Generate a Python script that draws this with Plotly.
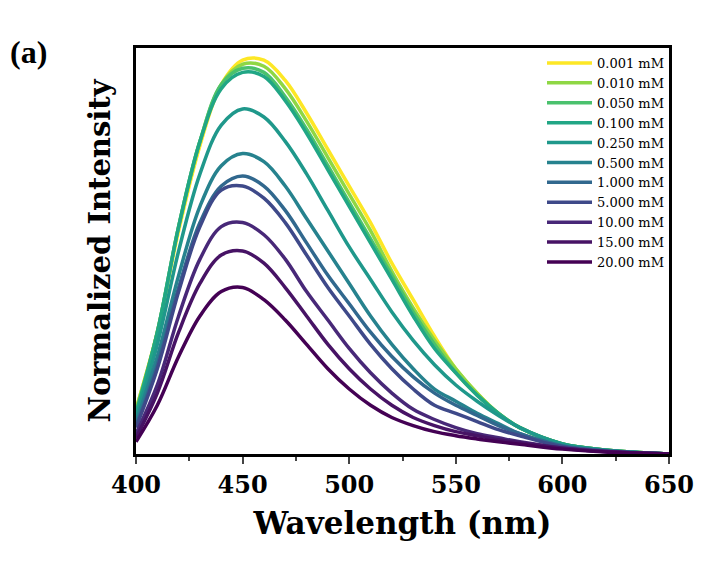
import plotly.graph_objects as go

wavelength = [400,410,420,430,440,450,460,470,480,490,500,510,520,530,540,550,560,570,580,600,620,650]
labels = ["0.001 mM","0.010 mM","0.050 mM","0.100 mM","0.250 mM","0.500 mM","1.000 mM","5.000 mM","10.00 mM","15.00 mM","20.00 mM"]
colors = ["#fde725","#8fd744","#4ac16d","#21a685","#1f988b","#26828e","#31688e","#3e4989","#482878","#471365","#440154"]
s_0001 = [0.11,0.30,0.55,0.76,0.91,0.97,0.97,0.92,0.84,0.75,0.66,0.57,0.47,0.38,0.29,0.21,0.15,0.10,0.065,0.025,0.01,0.0]
s_0010 = [0.11,0.30,0.56,0.77,0.91,0.96,0.955,0.90,0.82,0.73,0.64,0.55,0.45,0.36,0.28,0.21,0.15,0.10,0.065,0.025,0.01,0.0]
s_0050 = [0.10,0.30,0.56,0.77,0.91,0.95,0.94,0.88,0.80,0.71,0.62,0.53,0.44,0.35,0.27,0.20,0.145,0.10,0.065,0.025,0.01,0.0]
s_0100 = [0.10,0.30,0.56,0.77,0.90,0.94,0.93,0.87,0.79,0.70,0.61,0.52,0.43,0.34,0.26,0.20,0.145,0.10,0.065,0.025,0.01,0.0]
s_0250 = [0.09,0.27,0.50,0.69,0.81,0.85,0.83,0.77,0.69,0.60,0.51,0.43,0.35,0.28,0.22,0.17,0.13,0.095,0.065,0.025,0.01,0.0]
s_0500 = [0.08,0.24,0.44,0.61,0.71,0.74,0.72,0.66,0.58,0.50,0.42,0.34,0.27,0.21,0.16,0.13,0.10,0.075,0.05,0.02,0.008,0.0]
s_1000 = [0.07,0.22,0.41,0.57,0.66,0.685,0.66,0.60,0.52,0.44,0.37,0.30,0.24,0.19,0.15,0.12,0.095,0.07,0.05,0.02,0.008,0.0]
s_5000 = [0.065,0.21,0.40,0.56,0.65,0.66,0.63,0.57,0.49,0.41,0.34,0.27,0.21,0.16,0.12,0.10,0.08,0.06,0.045,0.018,0.007,0.0]
s_10 = [0.05,0.17,0.34,0.48,0.56,0.57,0.54,0.48,0.40,0.33,0.26,0.20,0.15,0.11,0.085,0.065,0.05,0.04,0.03,0.015,0.006,0.0]
s_15 = [0.04,0.15,0.30,0.42,0.49,0.50,0.47,0.41,0.34,0.27,0.21,0.16,0.12,0.09,0.07,0.055,0.045,0.035,0.028,0.014,0.006,0.0]
s_20 = [0.03,0.12,0.24,0.34,0.40,0.41,0.38,0.33,0.27,0.21,0.16,0.12,0.09,0.07,0.055,0.045,0.037,0.03,0.024,0.012,0.005,0.0]
series = [s_0001,s_0010,s_0050,s_0100,s_0250,s_0500,s_1000,s_5000,s_10,s_15,s_20]

fig = go.Figure()
for lab, col, ys in zip(labels, colors, series):
    fig.add_trace(go.Scatter(x=wavelength, y=ys, name=lab, mode="lines",
                             line=dict(color=col, width=3.5, shape="spline", smoothing=1.0)))

fig.update_layout(
    width=721, height=562, plot_bgcolor="white", paper_bgcolor="white",
    margin=dict(l=128, r=60, t=40, b=116),
    font=dict(family="Liberation Serif", color="black"),
    legend=dict(x=1.0, y=1.0, xanchor="right", yanchor="top", bgcolor="rgba(0,0,0,0)",
                font=dict(family="DejaVu Serif", size=13), tracegroupgap=0, itemwidth=45),
    xaxis=dict(range=[400, 650], tickvals=[400,450,500,550,600,650], ticks="outside", ticklen=7, tickwidth=2,
               minor=dict(tickvals=[425,475,525,575,625], ticks="outside", ticklen=4, tickwidth=2),
               showline=True, linewidth=2.5, linecolor="black", mirror=True, showgrid=False, zeroline=False,
               tickfont=dict(size=24, family="DejaVu Serif", weight="bold"),
               title=dict(text="<b>Wavelength (nm)</b>", font=dict(size=31, family="DejaVu Serif"), standoff=15)),
    yaxis=dict(range=[0, 1.0], showticklabels=False, ticks="", showline=True, linewidth=2.5, linecolor="black",
               mirror=True, showgrid=False, zeroline=False,
               title=dict(text="<b>Normalized Intensity</b>", font=dict(size=29, family="DejaVu Serif"), standoff=15)),
)
fig.add_annotation(text="<b>(a)</b>", xref="paper", yref="paper", x=-0.24, y=1.04, showarrow=False,
                   font=dict(size=32, family="Liberation Serif"), xanchor="left", yanchor="top")
fig.write_html("out.html")
